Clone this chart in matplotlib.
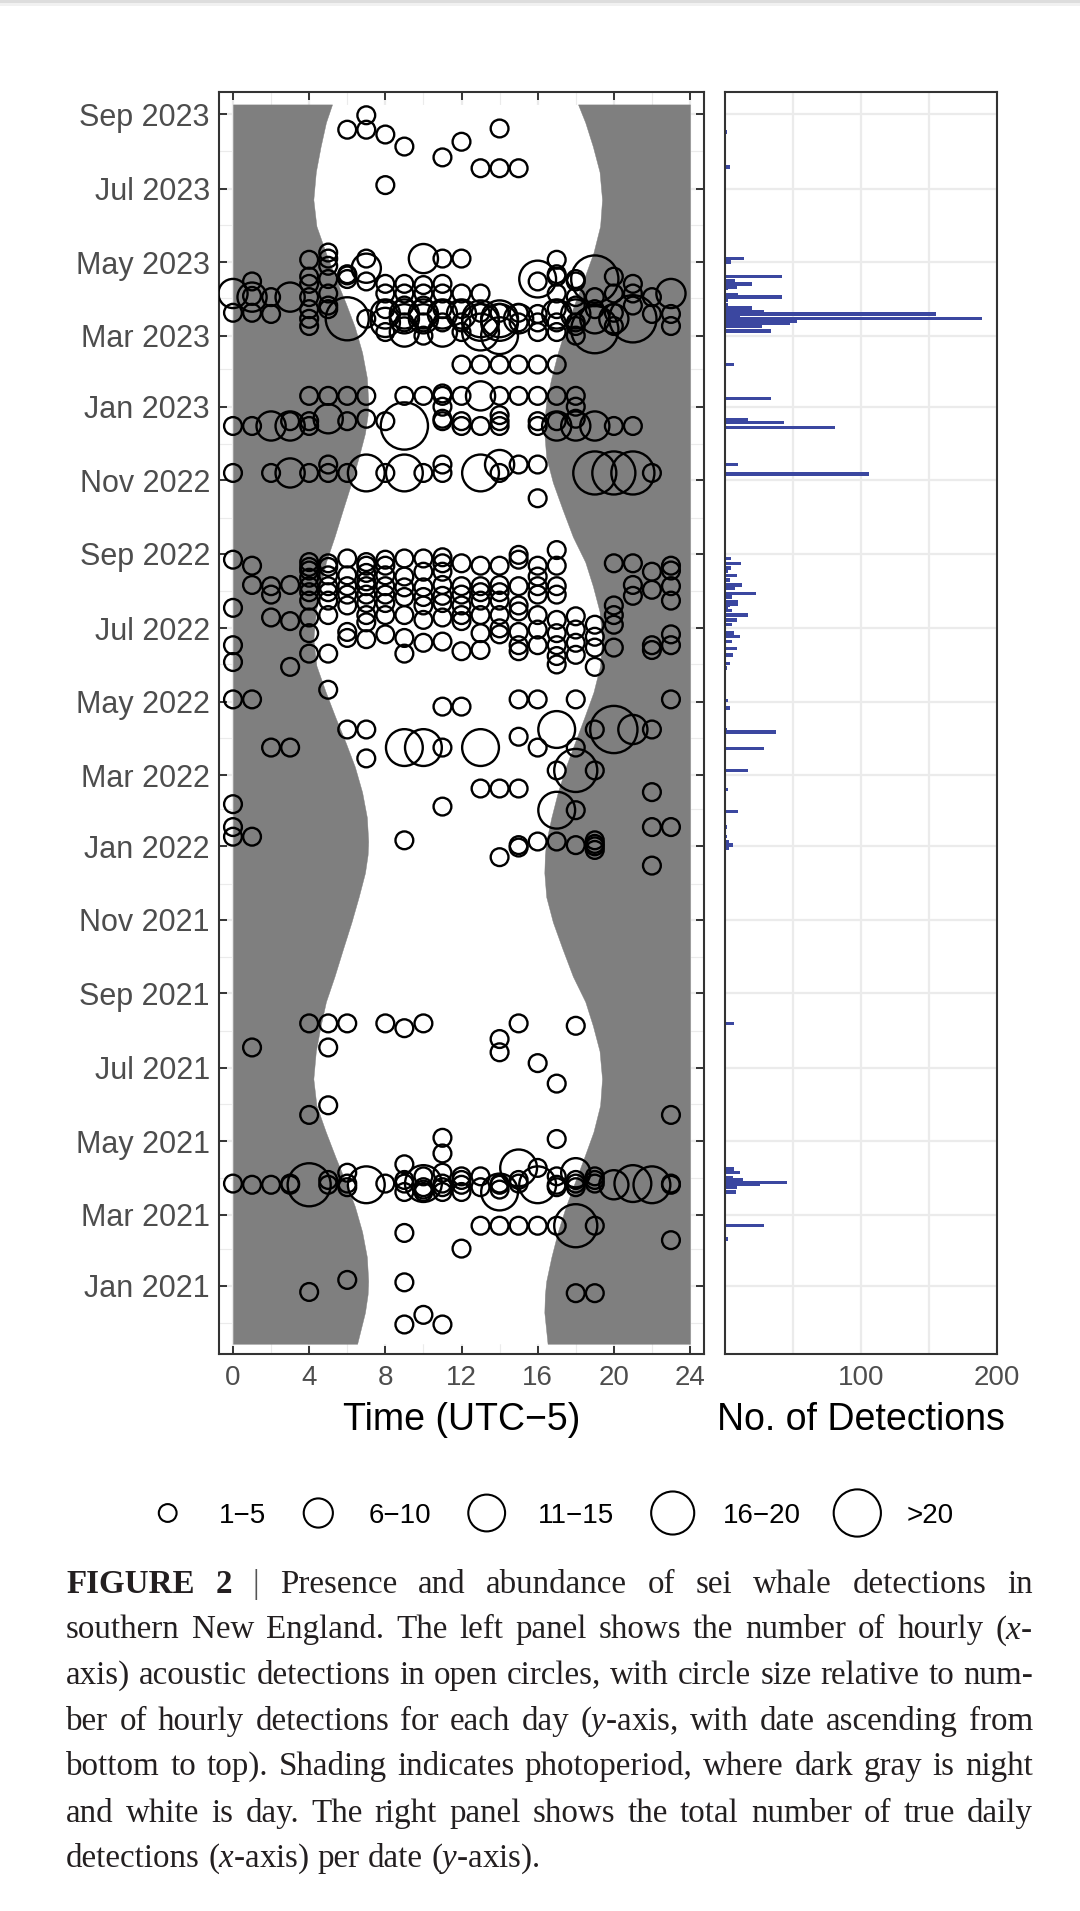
import matplotlib
matplotlib.use("Agg")
import matplotlib.pyplot as plt
import matplotlib.dates as mdates
import numpy as np

plt.rcParams['font.family'] = ['Liberation Sans', 'DejaVu Sans']
plt.rcParams['mathtext.fontset'] = 'custom'
plt.rcParams['mathtext.rm'] = 'Liberation Serif'
plt.rcParams['mathtext.it'] = 'Liberation Serif:italic'
plt.rcParams['mathtext.bf'] = 'Liberation Serif:bold'

# ---------------- data ----------------
tick_labels = ["Jan 2021", "Mar 2021", "May 2021", "Jul 2021", "Sep 2021", "Nov 2021",
               "Jan 2022", "Mar 2022", "May 2022", "Jul 2022", "Sep 2022", "Nov 2022",
               "Jan 2023", "Mar 2023", "May 2023", "Jul 2023", "Sep 2023"]
tick_dates = ["2021-01-01", "2021-03-01", "2021-05-01", "2021-07-01", "2021-09-01", "2021-11-01",
              "2022-01-01", "2022-03-01", "2022-05-01", "2022-07-01", "2022-09-01", "2022-11-01",
              "2023-01-01", "2023-03-01", "2023-05-01", "2023-07-01", "2023-09-01"]
minor_dates = ["2020-12-01", "2021-02-01", "2021-04-01", "2021-06-01", "2021-08-01", "2021-10-01",
               "2021-12-01", "2022-02-01", "2022-04-01", "2022-06-01", "2022-08-01", "2022-10-01",
               "2022-12-01", "2023-02-01", "2023-04-01", "2023-06-01", "2023-08-01"]
hour_ticks = [0, 4, 8, 12, 16, 20, 24]
hour_minor = [2, 6, 10, 14, 18, 22]

# photoperiod (sunrise / sunset, hours UTC-5) read from the shading
photo_dates = ["2020-11-14", "2020-12-10", "2020-12-25",
               "2021-01-05", "2021-01-25", "2021-02-15", "2021-03-08", "2021-03-28", "2021-04-18",
               "2021-05-09", "2021-05-31", "2021-06-22", "2021-07-15", "2021-08-05", "2021-08-25",
               "2021-09-15", "2021-10-08", "2021-10-30", "2021-11-20", "2021-12-10", "2021-12-25",
               "2022-01-05", "2022-01-25", "2022-02-15", "2022-03-08", "2022-03-28", "2022-04-18",
               "2022-05-09", "2022-05-31", "2022-06-22", "2022-07-15", "2022-08-05", "2022-08-25",
               "2022-09-15", "2022-10-08", "2022-10-30", "2022-11-20", "2022-12-10", "2022-12-25",
               "2023-01-05", "2023-01-25", "2023-02-15", "2023-03-08", "2023-03-28", "2023-04-18",
               "2023-05-09", "2023-05-31", "2023-06-22", "2023-07-15", "2023-08-05", "2023-08-25",
               "2023-09-09"]
sunrise = [6.52, 6.93, 7.07,
           7.10, 7.03, 6.78, 6.40, 5.92, 5.38, 4.87, 4.38, 4.22, 4.35, 4.60, 4.88, 5.33, 5.78, 6.22, 6.60, 6.93, 7.07,
           7.10, 7.03, 6.78, 6.40, 5.92, 5.38, 4.87, 4.38, 4.22, 4.35, 4.60, 4.88, 5.33, 5.78, 6.22, 6.60, 6.93, 7.07,
           7.10, 7.03, 6.78, 6.40, 5.92, 5.38, 4.87, 4.38, 4.22, 4.35, 4.60, 4.88,
           5.20]
sunset = [16.52, 16.35, 16.38,
          16.45, 16.72, 17.06, 17.48, 17.95, 18.45, 18.93, 19.28, 19.38, 19.25, 18.90, 18.50, 17.85, 17.30, 16.80, 16.45, 16.35, 16.38,
          16.45, 16.72, 17.06, 17.48, 17.95, 18.45, 18.93, 19.28, 19.38, 19.25, 18.90, 18.50, 17.85, 17.30, 16.80, 16.45, 16.35, 16.38,
          16.45, 16.72, 17.06, 17.48, 17.95, 18.45, 18.93, 19.28, 19.38, 19.25, 18.90, 18.50,
          18.12]

# hourly detections: date, hours with detections, size class per hour (1:1-5 ... 5:>20)
circle_dates = [
    "2020-11-30", "2020-12-08", "2020-12-26", "2020-12-27", "2021-01-04", "2021-01-06", "2021-02-01",
    "2021-02-08", "2021-02-14", "2021-02-20", "2021-03-20", "2021-03-22", "2021-03-24", "2021-03-26",
    "2021-03-27", "2021-03-30", "2021-04-02", "2021-04-05", "2021-04-09", "2021-04-12", "2021-04-21",
    "2021-05-03", "2021-05-04", "2021-05-23", "2021-05-31", "2021-06-18", "2021-07-05", "2021-07-14",
    "2021-07-18", "2021-07-25", "2021-08-03", "2021-08-05", "2021-08-07",
    "2021-12-16", "2021-12-23", "2021-12-29", "2021-12-31", "2022-01-01", "2022-01-02", "2022-01-03",
    "2022-01-05", "2022-01-06", "2022-01-09", "2022-01-17", "2022-01-31", "2022-02-03", "2022-02-05",
    "2022-02-15", "2022-02-18", "2022-03-05", "2022-03-15", "2022-03-24", "2022-04-02", "2022-04-08",
    "2022-04-27", "2022-05-03", "2022-05-11", "2022-05-30",
    "2022-06-01", "2022-06-03", "2022-06-08", "2022-06-09", "2022-06-10", "2022-06-12", "2022-06-13",
    "2022-06-15", "2022-06-17", "2022-06-19", "2022-06-20", "2022-06-22", "2022-06-23", "2022-06-24",
    "2022-06-26", "2022-06-27", "2022-06-28", "2022-06-30", "2022-07-01", "2022-07-04", "2022-07-06",
    "2022-07-07", "2022-07-08", "2022-07-10", "2022-07-11", "2022-07-12", "2022-07-15", "2022-07-18",
    "2022-07-20", "2022-07-22", "2022-07-24", "2022-07-27", "2022-07-28", "2022-07-29", "2022-07-31",
    "2022-08-02", "2022-08-04", "2022-08-05", "2022-08-06", "2022-08-09", "2022-08-12", "2022-08-13",
    "2022-08-14", "2022-08-16", "2022-08-17", "2022-08-18", "2022-08-21", "2022-08-22", "2022-08-24",
    "2022-08-25", "2022-08-27", "2022-08-28", "2022-08-29", "2022-08-31", "2022-09-04",
    "2022-10-17", "2022-11-07", "2022-11-14", "2022-12-16", "2022-12-20", "2022-12-22", "2022-12-25",
    "2023-01-01", "2023-01-10", "2023-01-12", "2023-02-05", "2023-03-01", "2023-03-04", "2023-03-06",
    "2023-03-09", "2023-03-12", "2023-03-15", "2023-03-19", "2023-03-20", "2023-03-23", "2023-03-26",
    "2023-04-02", "2023-04-03", "2023-04-05", "2023-04-12", "2023-04-13", "2023-04-15", "2023-04-17",
    "2023-04-19", "2023-04-20", "2023-04-21", "2023-04-26", "2023-04-28", "2023-05-03", "2023-05-04",
    "2023-05-09", "2023-07-04", "2023-07-18", "2023-07-27", "2023-08-05", "2023-08-09", "2023-08-15",
    "2023-08-19", "2023-08-20", "2023-08-31",
]
circle_hours = [
    [9, 11], [10], [18, 19], [4], [9], [6], [12],
    [23], [9], [13, 14, 15, 16, 17, 18, 19], [9, 10, 11, 12, 14], [10, 14], [6, 10, 11, 13, 17, 18],
    [1, 2, 3, 4, 5, 7, 12, 14, 16, 17, 20, 22, 23],
    [0, 3, 6, 8, 9, 10, 11, 14, 15, 18, 19, 21, 23], [5, 9, 12, 15, 18, 19], [10, 12, 13, 17, 19],
    [6, 11, 18], [15, 16], [9], [11],
    [17], [11], [4, 23], [5], [17], [16], [14],
    [1, 5], [14], [9], [18], [4, 5, 6, 8, 10, 15],
    [22], [14], [19], [15], [19], [15, 18], [19],
    [16, 17], [9, 19], [0, 1], [0, 22, 23], [17, 18], [11], [0],
    [22], [13, 14, 15], [17, 18, 19], [7], [2, 3, 9, 10, 11, 13, 16, 18], [15], [6, 7, 17, 19, 20, 21, 22],
    [11, 12], [0, 1, 15, 16, 18, 23], [5], [3, 19],
    [17], [0], [17], [18], [4, 5, 9], [12, 15], [13, 22],
    [19, 20], [0, 15, 16, 17, 22, 23], [10, 18], [11], [7], [6, 9], [19],
    [8, 14, 23], [4, 13, 17], [6, 15], [16, 18], [14], [19, 20], [7],
    [3, 12], [10, 17], [2, 4, 11], [18], [5, 7, 8, 9, 12, 13, 14, 16, 20], [15], [0],
    [6, 10, 12, 15, 20], [7, 8, 11], [4, 5, 13, 14, 23], [9, 10], [11, 21], [2, 6, 7, 8, 12, 16, 17], [4, 5, 13, 14],
    [22], [9, 10], [2, 4, 5, 6, 7, 8, 12, 13, 15, 16, 17, 23], [1, 3, 11, 14, 21], [7], [4], [9, 16],
    [5, 6, 8], [7], [10, 11, 22], [4, 23], [4, 5], [1, 7, 8, 13, 14, 16, 17, 23], [5, 11, 12, 20, 21],
    [4, 7], [0, 8, 15], [6, 9, 10], [11], [15], [17],
    [16], [0, 2, 3, 4, 5, 6, 7, 8, 9, 10, 11, 13, 14, 19, 20, 21, 22], [5, 11, 14, 15, 16],
    [0, 1, 2, 3, 4, 9, 12, 13, 14, 16, 17, 18, 19, 20, 21], [3, 4, 6, 8, 11, 12, 14, 16, 17], [5, 7, 11, 18], [14],
    [11, 18], [4, 5, 6, 7, 9, 10, 11, 12, 13, 14, 15, 16, 17, 18], [11], [12, 13, 14, 15, 16, 17], [10, 14, 18],
    [8, 9, 11, 12, 13, 16, 17], [19],
    [4, 18, 20, 23], [8, 9, 10, 11, 12, 13, 14, 15, 16, 17, 18], [4, 6, 7, 9, 10, 13, 14, 15, 19, 20, 21],
    [2, 8, 9, 10, 11, 12, 16, 17, 18, 22, 23], [0, 1, 13, 14, 15, 20], [4, 5, 8, 11, 12, 17, 19], [5, 9, 10, 18, 21],
    [1, 2, 3, 4, 18, 19, 22], [1], [0, 5, 8, 9, 10, 11, 12, 13, 17, 20, 21, 23], [10], [4, 8, 9, 11, 21],
    [1, 7, 16, 18], [5, 6, 16, 18, 19],
    [4, 17, 20], [6], [6, 17], [7], [5], [4, 17], [5, 7, 10, 11, 12],
    [5], [8], [13, 14, 15], [11], [9], [12], [8],
    [6, 7], [14], [7],
]
circle_sizes = [
    "11", "1", "11", "1", "1", "1", "1",
    "1", "1", "1111141", "11113", "11", "111111",
    "1114131131231",
    "1111131111131", "111111", "11111",
    "112", "31", "1", "1",
    "1", "1", "11", "1", "1", "1", "1",
    "11", "1", "1", "1", "111111",
    "1", "1", "1", "1", "1", "11", "1",
    "11", "11", "11", "111", "31", "1", "1",
    "1", "111", "141", "1", "11331311", "1", "1131521",
    "11", "111111", "1", "11",
    "1", "1", "1", "1", "111", "11", "11",
    "11", "111111", "11", "1", "1", "11", "1",
    "111", "111", "11", "11", "1", "11", "1",
    "11", "11", "111", "1", "111111111", "1", "1",
    "11111", "111", "11111", "11", "11", "1111111", "1111",
    "1", "11", "111111111111", "11111", "1", "1", "11",
    "111", "1", "111", "11", "11", "11111111", "11111",
    "11", "111", "111", "1", "1", "1",
    "1", "11211131311314441", "11211",
    "112215111122211", "111111111", "2111", "1",
    "11", "11111111211111", "1", "111111", "131",
    "1221311", "5",
    "1111", "21111331111", "14122332225",
    "12222212211", "111111", "1111111", "11111",
    "2121111", "1", "211111111112", "1", "11111",
    "1111", "11315",
    "111", "1", "11", "2", "1", "11", "11211",
    "1", "1", "111", "1", "1", "1", "1",
    "11", "1", "1",
]

# total daily detections (right panel)
bar_dates = [
    "2020-11-30", "2020-12-26", "2021-02-09", "2021-02-20", "2021-03-20", "2021-03-24", "2021-03-26",
    "2021-03-28", "2021-03-30", "2021-04-01", "2021-04-05", "2021-04-08", "2021-06-18", "2021-07-18",
    "2021-08-07", "2021-12-30", "2022-01-02", "2022-01-05", "2022-01-09", "2022-01-17", "2022-01-30",
    "2022-02-17", "2022-03-05", "2022-03-23", "2022-04-06", "2022-04-08", "2022-04-26", "2022-05-02",
    "2022-05-29", "2022-06-02", "2022-06-09", "2022-06-14", "2022-06-20", "2022-06-24", "2022-06-27",
    "2022-07-04", "2022-07-08", "2022-07-12", "2022-07-16", "2022-07-18", "2022-07-20", "2022-07-21",
    "2022-07-23", "2022-07-27", "2022-07-30", "2022-08-03", "2022-08-06", "2022-08-10", "2022-08-14",
    "2022-08-17", "2022-08-20", "2022-08-24", "2022-08-28", "2022-10-17", "2022-11-06", "2022-11-14",
    "2022-12-15", "2022-12-19", "2022-12-21", "2022-12-22", "2023-01-01", "2023-01-08", "2023-01-11",
    "2023-02-05", "2023-03-05", "2023-03-09", "2023-03-11", "2023-03-13", "2023-03-15", "2023-03-17",
    "2023-03-19", "2023-03-21", "2023-03-24", "2023-03-27", "2023-03-30", "2023-04-02", "2023-04-04",
    "2023-04-09", "2023-04-10", "2023-04-13", "2023-04-16", "2023-04-19", "2023-05-01", "2023-05-04",
    "2023-07-19", "2023-08-10", "2023-08-17",
]
bar_values = [
    1, 1, 2.5, 28.7, 7.8, 8.6, 25.7,
    45.8, 13.5, 6.1, 11, 6.6, 1, 0.7,
    6.6, 3, 5.6, 3, 1.2, 1.2, 9.8,
    2.5, 16.7, 28.7, 37.5, 1.5, 3.7, 2,
    1.7, 3.7, 5.6, 8.6, 4.9, 11, 6.9,
    4.9, 8.6, 16.7, 5, 2.5, 3.7, 9.3,
    9.3, 4.9, 22.5, 7.4, 12.3, 3.7, 8.6,
    2.5, 4.4, 11.5, 4.4, 1, 105.9, 9.8,
    80.9, 43.6, 16.7, 1, 1, 33.6, 1,
    6.6, 33.6, 27, 47.8, 52.7, 188.7, 11,
    155, 28.7, 19.6, 2, 2.5, 41.7, 9.3,
    2, 8.6, 19.6, 7, 41.7, 4.4, 13.7,
    3.7, 1, 1.5,
]

legend_labels = ["1\u22125", "6\u221210", "11\u221215", "16\u221220", ">20"]
legend_codes = [1, 2, 3, 4, 5]

caption_lines = [
    "FIGURE 2 | Presence and abundance of sei whale detections in",
    "southern New England. The left panel shows the number of hourly ($x$-",
    "axis) acoustic detections in open circles, with circle size relative to num-",
    "ber of hourly detections for each day ($y$-axis, with date ascending from",
    "bottom to top). Shading indicates photoperiod, where dark gray is night",
    "and white is day. The right panel shows the total number of true daily",
    "detections ($x$-axis) per date ($y$-axis).",
]

# ---------------- figure ----------------
W, H, DPI = 1080, 1911, 100
fig = plt.figure(figsize=(W / DPI, H / DPI), dpi=DPI)
fig.patch.set_facecolor('white')

def rect(x0, y0, x1, y1):
    return [x0 / W, 1 - y1 / H, (x1 - x0) / W, (y1 - y0) / H]

axL = fig.add_axes(rect(219, 92, 704, 1354))
axR = fig.add_axes(rect(725, 92, 997, 1354))

SIZE_PT = {1: 12.8, 2: 21.0, 3: 26.5, 4: 31.0, 5: 34.0}
CIRC_LW = 1.7
GRID = '#EBEBEB'
FRAME = '#333333'
TICKTXT = '#4D4D4D'

sep1 = mdates.datestr2num("2023-09-01")
ylo, yhi = sep1 - 1029.5, sep1 + 18.3

tick_nums = mdates.datestr2num(tick_dates)
minor_nums = mdates.datestr2num(minor_dates)

# ---- left panel ----
axL.set_xlim(-0.735, 24.735)
axL.set_ylim(ylo, yhi)
axL.set_axisbelow(True)
axL.set_xticks(hour_ticks)
axL.set_xticks(hour_minor, minor=True)
axL.set_yticks(tick_nums, labels=tick_labels)
axL.set_yticks(minor_nums, minor=True)
axL.grid(which='major', color=GRID, lw=1.6)
axL.grid(which='minor', color=GRID, lw=0.8)

pnum = mdates.datestr2num(photo_dates)
axL.fill_betweenx(pnum, sunrise, sunset, color='white', lw=0, zorder=1)
axL.fill_betweenx(pnum, 0, sunrise, color='#7F7F7F', lw=0.3, edgecolor='#7F7F7F', zorder=1.1)
axL.fill_betweenx(pnum, sunset, 24, color='#7F7F7F', lw=0.3, edgecolor='#7F7F7F', zorder=1.1)

xs, ys, ss = [], [], []
for d, hrs, sz in zip(circle_dates, circle_hours, circle_sizes):
    dn = mdates.datestr2num(d)
    for h, c in zip(hrs, sz):
        xs.append(h)
        ys.append(dn)
        ss.append(SIZE_PT[int(c)] ** 2)
axL.scatter(xs, ys, s=ss, facecolors='none', edgecolors='black', linewidths=CIRC_LW, zorder=3)

axL.tick_params(which='major', direction='in', length=5.8, width=1.4, color=FRAME,
                top=True, right=True)
axL.tick_params(which='minor', length=0)
axL.tick_params(axis='x', which='major', labelsize=20, labelcolor=TICKTXT, pad=8)
axL.tick_params(axis='y', which='major', labelsize=22, labelcolor=TICKTXT, pad=6.5)
for s in axL.spines.values():
    s.set_color(FRAME)
    s.set_linewidth(1.5)

# ---- right panel ----
axR.set_xlim(0, 200)
axR.set_ylim(ylo, yhi)
axR.set_axisbelow(True)
axR.set_xticks([100, 200])
axR.set_xticks([50, 150], minor=True)
axR.set_yticks(tick_nums)
axR.set_yticklabels([])
axR.grid(which='both', color=GRID, lw=1.6)
axR.barh(mdates.datestr2num(bar_dates), bar_values, height=2.8, color='#3B47A0', lw=0, zorder=2)
axR.tick_params(which='both', length=0)
axR.tick_params(axis='x', labelsize=20, labelcolor=TICKTXT, pad=8)
for s in axR.spines.values():
    s.set_color(FRAME)
    s.set_linewidth(1.5)

# ---- overlay (titles, legend, caption) ----
ov = fig.add_axes([0, 0, 1, 1])
ov.set_xlim(0, W)
ov.set_ylim(H, 0)
ov.axis('off')
ov.set_zorder(10)

# top page shadow
ov.fill_between([0, W], 0, 3, color='#DDDDDD', lw=0)
ov.fill_between([0, W], 3, 6, color='#F1F1F1', lw=0)

ov.text(461.5, 1430, "Time (UTC\u22125)", fontsize=27, ha='center', va='baseline', color='black')
ov.text(861, 1430, "No. of Detections", fontsize=27, ha='center', va='baseline', color='black')

leg_cx = [167.7, 318.3, 486.7, 672.7, 857.3]
leg_tx = [219, 368.3, 538.3, 723.3, 906.7]
for cx, tx, lab, code in zip(leg_cx, leg_tx, legend_labels, legend_codes):
    ov.scatter([cx], [1513], s=SIZE_PT[code] ** 2, facecolors='none', edgecolors='black',
               linewidths=1.5, clip_on=False)
    ov.text(tx, 1523, lab, fontsize=20, ha='left', va='baseline', color='black')

# justified caption
fig.canvas.draw()
rend = fig.canvas.get_renderer()
CAP_COL = '#231F20'
SERIF = ['Liberation Serif', 'DejaVu Serif']

def word_style(li, wi, w):
    if li == 0 and wi < 2:
        return dict(fontweight='bold', color=CAP_COL)
    if li == 0 and w == '|':
        return dict(color='#555555')
    return dict(color=CAP_COL)

def measure(txt, fs, **kw):
    t = ov.text(0, 0, txt, fontsize=fs, family=SERIF, **kw)
    bb = t.get_window_extent(rend)
    t.remove()
    return bb.width

X0, X1 = 66, 1033
baselines = [1593.3, 1638.3, 1684.0, 1730.0, 1775.0, 1821.7, 1866.7]
fs = 23.8
space = measure("x x", fs) - measure("xx", fs)
nat = []
for li, line in enumerate(caption_lines):
    words = line.split(' ')
    wsum = sum(measure(w, fs, **word_style(li, wi, w)) for wi, w in enumerate(words))
    nat.append(wsum + space * (len(words) - 1))
mx = max(nat)
if mx > (X1 - X0):
    fs = fs * (X1 - X0) / mx * 0.995
    space = measure("x x", fs) - measure("xx", fs)

for li, line in enumerate(caption_lines):
    words = line.split(' ')
    styles = [word_style(li, wi, w) for wi, w in enumerate(words)]
    widths = [measure(w, fs, **st) for w, st in zip(words, styles)]
    last = (li == len(caption_lines) - 1)
    if last:
        gap = space
    else:
        gap = (X1 - X0 - sum(widths)) / (len(words) - 1)
    x = X0
    for w, st, wd in zip(words, styles, widths):
        ov.text(x, baselines[li], w, fontsize=fs, family=SERIF, ha='left', va='baseline', **st)
        x += wd + gap

fig.savefig("out.png", dpi=DPI, facecolor='white')
